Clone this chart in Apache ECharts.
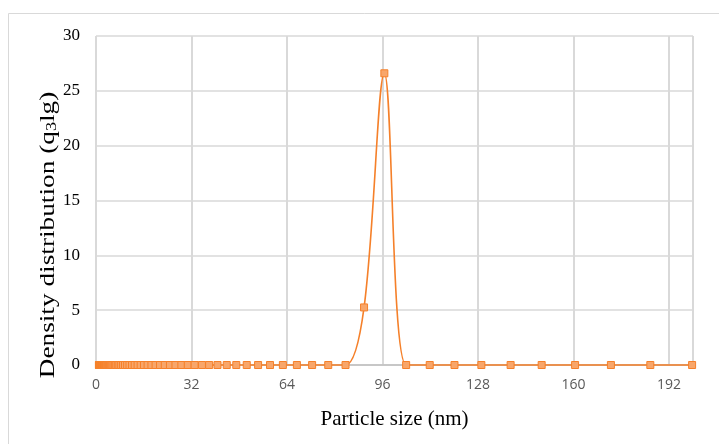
<!DOCTYPE html>
<html>
<head>
<meta charset="utf-8">
<script src="https://cdn.jsdelivr.net/npm/echarts@6/dist/echarts.min.js"></script>
<style>html,body{margin:0;padding:0;background:#fff}#c{width:719px;height:444px}</style>
</head>
<body>
<div id="c"></div>
<script>
// Particle size (nm) bin centres
var sizes = [0.97, 1.04, 1.12, 1.21, 1.30, 1.39, 1.50, 1.61, 1.73, 1.86, 2.00, 2.15, 2.31, 2.48, 2.66, 2.86,
  3.07, 3.30, 3.55, 3.82, 4.10, 4.41, 4.73, 5.09, 5.47, 5.87, 6.31, 6.78, 7.29, 7.83, 8.42, 9.04, 9.72,
  10.44, 11.22, 12.06, 12.96, 13.93, 14.97, 16.08, 17.28, 18.57, 19.96, 21.45, 23.05, 24.77, 26.62,
  28.60, 30.74, 33.03, 35.5, 37.9, 40.7, 43.8, 47.0, 50.5, 54.3, 58.3, 62.6, 67.3, 72.4, 77.8, 83.6,
  89.8, 96.6, 103.9, 111.8, 120.1, 129.1, 138.9, 149.3, 160.5, 172.5, 185.7, 199.7];
// Density distribution q3lg; zero everywhere except the peak
var peakSizes = [89.8, 96.6];
var peakValues = [5.25, 26.6];
var xTicks = [0, 32, 64, 96, 128, 160, 192];
var yTicks = [0, 5, 10, 15, 20, 25, 30];

var data = sizes.map(function (s) {
  var i = peakSizes.indexOf(s);
  return [s, i >= 0 ? peakValues[i] : 0];
});

var chart = echarts.init(document.getElementById('c'));
chart.setOption({
  animation: false,
  backgroundColor: '#fff',
  graphic: [
    { type: 'rect', shape: { x: 8.5, y: 13.5, width: 730, height: 450 }, style: { fill: 'none', stroke: '#d9d9d9', lineWidth: 1 }, z: -1 },
    { type: 'text', x: 48, y: 235, rotation: Math.PI / 2, scaleX: 1.3,
      style: {
        text: 'Density distribution (q{s|3}lg)',
        font: '21px "Liberation Serif"', fill: '#000',
        align: 'center', verticalAlign: 'middle',
        rich: { s: { fontSize: 14, fontFamily: 'Liberation Serif', verticalAlign: 'bottom', padding: [8, 0, 0, 0], fill: '#000' } }
      } }
  ],
  grid: { left: 96, right: 26, top: 36, bottom: 79, containLabel: false },
  xAxis: {
    type: 'value', min: 0, max: 200, interval: 32,
    name: 'Particle size (nm)', nameLocation: 'middle', nameGap: 44,
    nameTextStyle: { fontFamily: 'Liberation Serif', fontSize: 21, color: '#000' },
    axisLine: { show: true, onZero: false, lineStyle: { color: '#bfbfbf', width: 1.5 } },
    axisTick: { show: false },
    axisLabel: { margin: 13, fontFamily: 'Open Sans', fontSize: 14, color: '#595959',
      formatter: function (v) { return xTicks.indexOf(v) >= 0 ? String(v) : ''; } },
    splitLine: { show: true, lineStyle: { color: '#d9d9d9', width: 2 } }
  },
  yAxis: {
    type: 'value', min: 0, max: 30, interval: 5,
    axisLine: { show: false }, axisTick: { show: false },
    axisLabel: { margin: 16, fontFamily: 'Liberation Serif', fontSize: 17, color: '#000',
      formatter: function (v) { return yTicks.indexOf(v) >= 0 ? String(v) : ''; } },
    splitLine: { show: true, lineStyle: { color: '#d9d9d9', width: 1.5 } }
  },
  series: [{
    type: 'line', data: data, smooth: 0.35, clip: false,
    symbol: 'rect', symbolSize: 7,
    lineStyle: { color: '#F5802A', width: 1.6 },
    itemStyle: { color: '#F8A66A', borderColor: '#F5802A', borderWidth: 1 }
  }]
});
</script>
</body>
</html>
